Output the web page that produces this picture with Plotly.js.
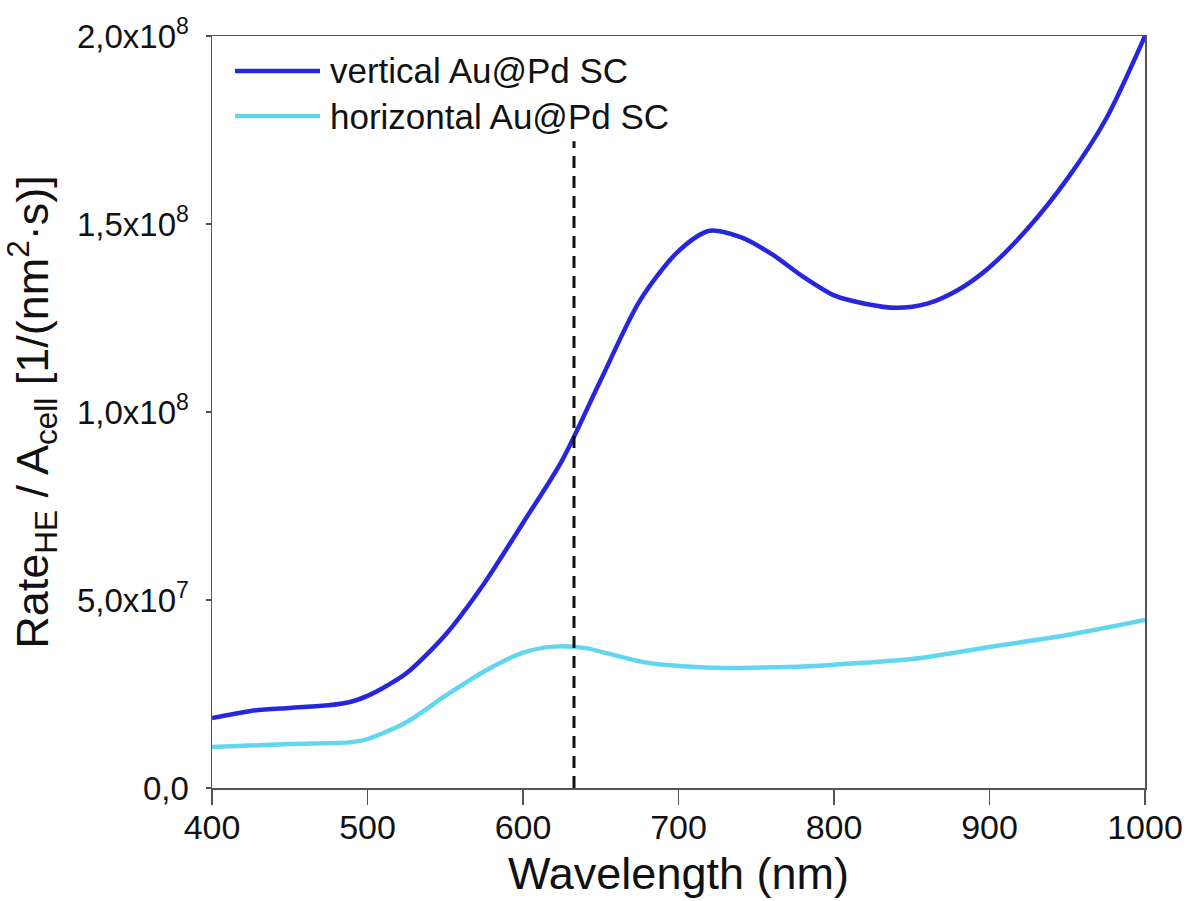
<!DOCTYPE html>
<html>
<head>
<meta charset="utf-8">
<script src="https://cdn.plot.ly/plotly-3.0.1.min.js"></script>
<style>html,body{margin:0;padding:0;background:#fff;}#chart{width:1189px;height:901px;}</style>
</head>
<body>
<div id="chart"></div>
<script>
const wavelengthVertical = [400, 425, 450, 475, 490, 500, 510, 525, 550, 575, 600, 625, 650, 675, 700, 720, 740, 760, 780, 800, 820, 840, 860, 880, 900, 925, 950, 975, 1000];
const rateVertical = [1.86e7, 2.05e7, 2.13e7, 2.2e7, 2.3e7, 2.45e7, 2.66e7, 3.05e7, 4.07e7, 5.44e7, 7.05e7, 8.7e7, 1.085e8, 1.295e8, 1.428e8, 1.482e8, 1.465e8, 1.42e8, 1.36e8, 1.31e8, 1.288e8, 1.277e8, 1.288e8, 1.325e8, 1.385e8, 1.49e8, 1.62e8, 1.78e8, 2.0e8];
const wavelengthHorizontal = [400, 450, 490, 500, 525, 550, 575, 600, 620, 640, 660, 680, 705, 730, 760, 780, 800, 850, 900, 950, 1000];
const rateHorizontal = [1.09e7, 1.17e7, 1.22e7, 1.3e7, 1.75e7, 2.45e7, 3.1e7, 3.6e7, 3.76e7, 3.72e7, 3.52e7, 3.33e7, 3.23e7, 3.19e7, 3.21e7, 3.23e7, 3.28e7, 3.43e7, 3.75e7, 4.07e7, 4.47e7];
const seriesNames = ["vertical Au@Pd SC", "horizontal Au@Pd SC"];
const seriesColors = ["#2626dd", "#62d6ee"];
const laserWavelength = 632.8;
const laserLineTop = 1.72e8;
const xTickVals = [400, 500, 600, 700, 800, 900, 1000];
const yTickVals = [0, 5e7, 1e8, 1.5e8, 2e8];
const yTickText = ["0,0", "5,0x10<sup>7</sup>", "1,0x10<sup>8</sup>", "1,5x10<sup>8</sup>", "2,0x10<sup>8</sup>"];

const font = "Liberation Sans, Arial, sans-serif";
const data = [
  {x: wavelengthVertical, y: rateVertical, name: seriesNames[0], type: "scatter", mode: "lines",
   line: {color: seriesColors[0], width: 4.5, shape: "spline", smoothing: 0.8}},
  {x: wavelengthHorizontal, y: rateHorizontal, name: seriesNames[1], type: "scatter", mode: "lines",
   line: {color: seriesColors[1], width: 4.5, shape: "spline", smoothing: 0.8}}
];

// manual legend (paper coordinates) to match the long legend lines of the reference
const legendRows = [0.9535, 0.8936];
const legendShapes = seriesNames.map((n, i) => ({type: "line", xref: "paper", yref: "paper",
  x0: 0.0247, x1: 0.1158, y0: legendRows[i], y1: legendRows[i], line: {color: seriesColors[i], width: 4.5}}));
const legendText = seriesNames.map((n, i) => ({xref: "paper", yref: "paper", x: 0.1243, y: legendRows[i],
  xanchor: "left", yanchor: "middle", text: n, showarrow: false, font: {size: 35, family: font, color: "#111"}}));

const layout = {
  width: 1189, height: 901,
  margin: {l: 212, r: 44, t: 36, b: 113},
  paper_bgcolor: "#fff", plot_bgcolor: "#fff",
  font: {family: font, color: "#111"},
  showlegend: false,
  xaxis: {range: [400, 1000], tickvals: xTickVals, ticks: "outside", ticklen: 15, tickwidth: 1.5, tickcolor: "#555",
          ticklabelstandoff: -6,
          showline: true, linecolor: "#555", linewidth: 1.5, mirror: true, showgrid: false, zeroline: false,
          tickfont: {size: 34, family: font, color: "#111"},
          title: {text: "Wavelength (nm)", font: {size: 45, family: font, color: "#111"}, standoff: 12}},
  yaxis: {range: [0, 2e8], tickvals: yTickVals, ticktext: yTickText, ticks: "outside", ticklen: 5, tickwidth: 1.5, tickcolor: "#555",
          ticklabelstandoff: 10,
          showline: true, linecolor: "#555", linewidth: 1.5, mirror: true, showgrid: false, zeroline: false,
          tickfont: {size: 33, family: font, color: "#111"},
          title: {text: "Rate<sub>HE</sub> / A<sub>cell</sub> [1/(nm<sup>2</sup>·s)]", font: {size: 45, family: font, color: "#111"}, standoff: 14}},
  shapes: [{type: "line", xref: "x", yref: "y", x0: laserWavelength, x1: laserWavelength, y0: 0, y1: laserLineTop,
            line: {color: "#111", width: 3, dash: "12px,8px"}}].concat(legendShapes),
  annotations: legendText
};
Plotly.newPlot("chart", data, layout, {displayModeBar: false, staticPlot: true});
</script>
</body>
</html>
